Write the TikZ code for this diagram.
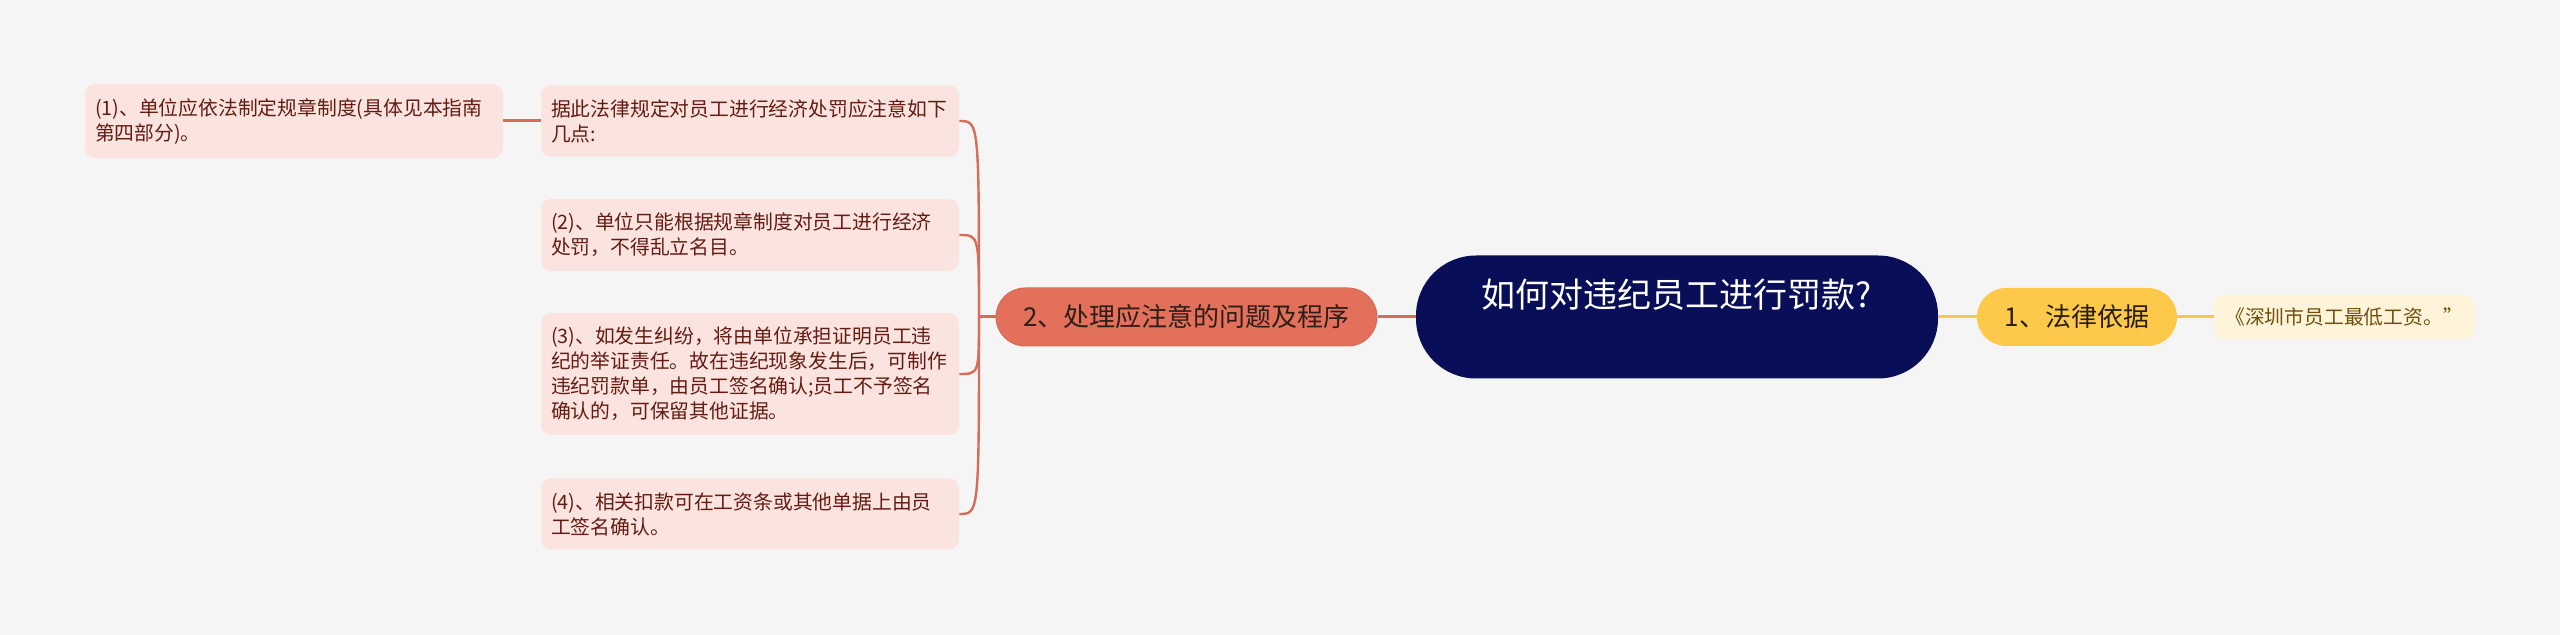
\documentclass[tikz,border=0pt]{standalone}
\usepackage{fontspec}
\setmainfont{Noto Sans CJK SC}
\definecolor{bggray}{RGB}{245,245,245}
\definecolor{navy}{RGB}{9,14,88}
\definecolor{coral}{RGB}{226,112,90}
\definecolor{coralln}{RGB}{215,108,88}
\definecolor{coraltx}{RGB}{45,30,25}
\definecolor{pinkbg}{RGB}{251,228,223}
\definecolor{pinktx}{RGB}{100,28,18}
\definecolor{gold}{RGB}{254,201,74}
\definecolor{goldln}{RGB}{247,199,82}
\definecolor{goldtx}{RGB}{40,30,10}
\definecolor{creambg}{RGB}{255,244,218}
\definecolor{creamtx}{RGB}{110,80,12}
\tikzset{
  rtopic/.style={fill=navy,text=white,rounded corners=30pt,minimum width=261pt,inner ysep=0pt,text height=26pt,text depth=35.5pt,font=\fontsize{17}{20}\selectfont},
  rbox/.style={fill=coral,draw=coralln,line width=0.5pt,rounded corners=14.5pt,minimum width=190.5pt,minimum height=29pt,text=coraltx,font=\fontsize{13}{16}\selectfont},
  ybox/.style={fill=gold,rounded corners=14.5pt,minimum width=100pt,minimum height=29pt,text=goldtx,font=\fontsize{13}{16}\selectfont},
  rnote/.style={fill=pinkbg,text=pinktx,rounded corners=5pt,text width=199pt,inner xsep=5pt,inner ysep=7pt,align=left,font=\fontsize{9.9}{12.5}\selectfont},
  ynote/.style={fill=creambg,text=creamtx,rounded corners=5pt,minimum width=130pt,minimum height=22pt,font=\fontsize{9.9}{12.5}\selectfont},
  rline/.style={coralln,line width=1.5pt},
  yline/.style={goldln,line width=1.5pt},
  rcurve/.style={coralln,line width=1.2pt}
}
\begin{document}
\begin{tikzpicture}[x=0.5pt,y=-0.5pt]
  \fill[bggray] (0,0) rectangle (2560,635);
  \useasboundingbox (0,0) rectangle (2560,635);

  \node[rtopic] (root) at (1677,317) {如何对违纪员工进行罚款?};
  \node[ybox] (law) at (2077,317) {1、法律依据};
  \node[ynote] (lawtx) at (2344,317) {《深圳市员工最低工资。”};
  \node[rbox] (proc) at (1186.5,317) {2、处理应注意的问题及程序};

  \node[rnote] (pA) at (750,121) {据此法律规定对员工进行经济处罚应注意如下\\几点:};
  \node[rnote] (p1) at (294,121) {(1)、单位应依法制定规章制度(具体见本指南\\第四部分)。};
  \node[rnote] (p2) at (750,235) {(2)、单位只能根据规章制度对员工进行经济\\处罚，不得乱立名目。};
  \node[rnote] (p3) at (750,374) {(3)、如发生纠纷，将由单位承担证明员工违\\纪的举证责任。故在违纪现象发生后，可制作\\违纪罚款单，由员工签名确认;员工不予签名\\确认的，可保留其他证据。};
  \node[rnote] (p4) at (750,514) {(4)、相关扣款可在工资条或其他单据上由员\\工签名确认。};
  \coordinate (hub) at (979,317);

  \draw[yline] (root.east) -- (law.west); \draw[yline] (law.east) -- (lawtx.west);
  \draw[rline] (root.west) -- (proc.east); \draw[rline] (proc.west) -- (hub);
  \draw[rline] (pA.west) -- (p1.east);
  \foreach \n in {pA,p2,p3,p4}
    \draw[rcurve] (hub) .. controls (hub |- \n.east) .. (\n.east);
\end{tikzpicture}
\end{document}
